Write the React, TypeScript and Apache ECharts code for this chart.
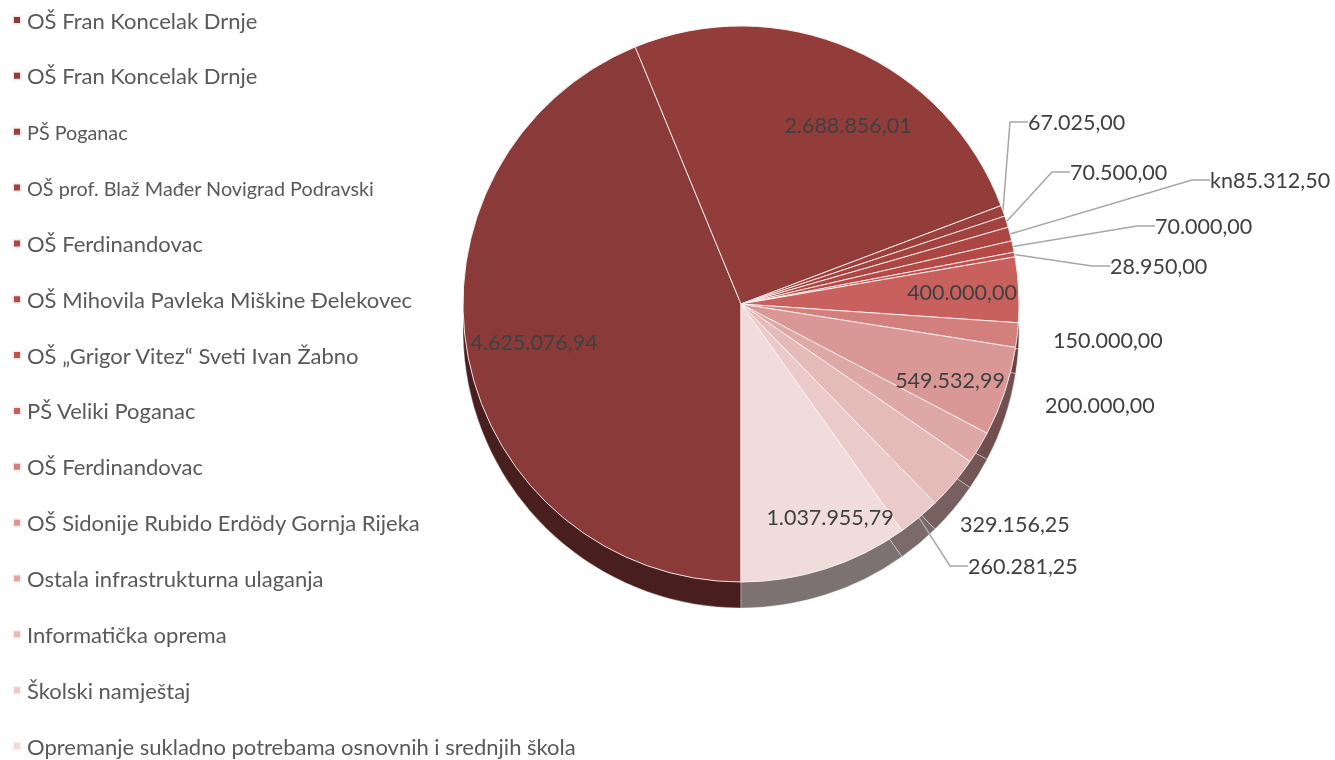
import React, { useEffect, useRef } from "react";
import * as echarts from "echarts";

const categories = [
  "OŠ Fran Koncelak Drnje",
  "OŠ Fran Koncelak Drnje",
  "PŠ Poganac",
  "OŠ prof. Blaž Mađer Novigrad Podravski",
  "OŠ Ferdinandovac",
  "OŠ Mihovila Pavleka Miškine Đelekovec",
  "OŠ „Grigor Vitez“ Sveti Ivan Žabno",
  "PŠ Veliki Poganac",
  "OŠ Ferdinandovac",
  "OŠ Sidonije Rubido Erdödy Gornja Rijeka",
  "Ostala infrastrukturna ulaganja",
  "Informatička oprema",
  "Školski namještaj",
  "Opremanje sukladno potrebama osnovnih i srednjih škola",
];

const values = [
  4625076.94, 2688856.01, 67025.0, 70500.0, 85312.5, 70000.0, 28950.0,
  400000.0, 150000.0, 549532.99, 200000.0, 329156.25, 260281.25, 1037955.79,
];

const valuePrefix = ["", "", "", "", "kn", "", "", "", "", "", "", "", "", ""];

const colors = [
  "#8B3A3A", "#933D3B", "#9B403E", "#A3433F", "#AC4642", "#B44A45", "#C0504D",
  "#C8615E", "#D27F7D", "#D99896", "#DEA8A6", "#E4BBB9", "#EACBCA", "#F0DCDB",
];

// label placement (layout only): inside labels centred, outside labels left-aligned
const insideIdx = [0, 1, 7, 9, 13];
const noLineIdx = [8, 10, 11];
const smallLegendIdx = [2, 3];
const labelPos: [number, number][] = [
  [534, 342], [848, 125], [1028, 122], [1070, 172], [1210, 180], [1155, 226],
  [1110, 266], [962, 292], [1053, 340], [950, 380], [1045, 405], [960, 524],
  [968, 566], [830, 517],
];

function fmt(v: number): string {
  const [i, d] = v.toFixed(2).split(".");
  return i.replace(/\B(?=(\d{3})+(?!\d))/g, ".") + "," + d;
}

function darken(hex: string, k: number): string {
  const n = parseInt(hex.slice(1), 16);
  const r = Math.round(((n >> 16) & 255) * k);
  const g = Math.round(((n >> 8) & 255) * k);
  const b = Math.round((n & 255) * k);
  return `rgb(${r},${g},${b})`;
}

const FONT = "Lato";

export default function App() {
  const ref = useRef<HTMLDivElement>(null);
  useEffect(() => {
    if (!ref.current) return;
    const chart = echarts.init(ref.current, null, { renderer: "svg" });
    // unique internal names (duplicates exist in the source)
    const names = categories.map((c, i) => c + "\u200b".repeat(i));
    const clean = (n: string) => n.replace(/\u200b/g, "");

    const topData = values.map((v, i) => {
      const item: any = {
        value: v,
        name: names[i],
        itemStyle: { color: colors[i] },
      };
      if (insideIdx.includes(i)) {
        item.label = { position: "inside" };
        item.labelLine = { show: false };
      } else if (noLineIdx.includes(i)) {
        item.labelLine = { show: false };
      }
      return item;
    });
    const wallData = values.map((v, i) => ({
      value: v,
      name: "wall-" + i,
      itemStyle: { color: darken(colors[i], 0.52) },
    }));

    chart.setOption({
      animation: false,
      legend: {
        orient: "vertical",
        left: 12,
        top: 8,
        height: 800,
        padding: 0,
        itemGap: 31.85,
        itemWidth: 8,
        itemHeight: 8,
        icon: "rect",
        selectedMode: false,
        data: names,
        formatter: (n: string) => {
          const i = names.indexOf(n);
          return smallLegendIdx.includes(i) ? `{s|${clean(n)}}` : `{n|${clean(n)}}`;
        },
        textStyle: {
          fontFamily: FONT,
          color: "#595959",
          lineHeight: 24,
          padding: [0, 0, 0, 1],
          rich: {
            n: { fontSize: 22, fontFamily: FONT, color: "#595959", lineHeight: 24 },
            s: { fontSize: 19.8, fontFamily: FONT, color: "#595959", lineHeight: 24 },
          },
        },
      },
      series: [
        {
          type: "pie",
          name: "main",
          z: 2,
          center: [741, 304],
          radius: 278,
          startAngle: 270,
          clockwise: true,
          avoidLabelOverlap: false,
          itemStyle: { borderColor: "rgba(255,245,245,0.9)", borderWidth: 1 },
          label: {
            show: true,
            color: "#404040",
            fontFamily: FONT,
            fontSize: 21.5,
            formatter: (p: any) => valuePrefix[p.dataIndex] + fmt(p.value),
          },
          labelLine: {
            show: true,
            length: 18,
            length2: 18,
            lineStyle: { color: "#A6A6A6", width: 1.5 },
          },
          labelLayout: (p: any) => {
            const pos = labelPos[p.dataIndex];
            if (!pos) return {};
            return { x: pos[0], y: pos[1] };
          },
          data: topData,
        },
        {
          type: "pie",
          name: "wall",
          silent: true,
          z: 1,
          center: [741, 330],
          radius: 278,
          startAngle: 270,
          clockwise: true,
          label: { show: false },
          labelLine: { show: false },
          itemStyle: { borderColor: "rgba(255,255,255,0.35)", borderWidth: 1 },
          data: wallData,
        },
      ],
    });
    return () => chart.dispose();
  }, []);
  return (
    <div
      ref={ref}
      style={{ position: "fixed", left: 0, top: 0, width: 1335, height: 760 }}
    />
  );
}
